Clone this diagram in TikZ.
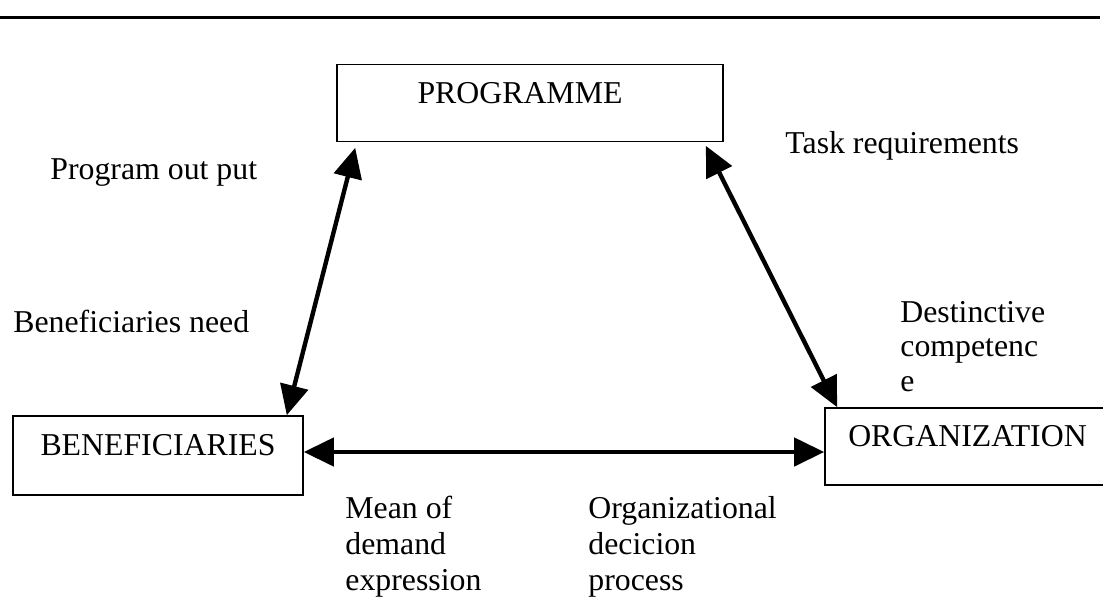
\documentclass[tikz,border=0pt]{standalone}
\usepackage{fontspec}
\setmainfont{Liberation Serif}
\usetikzlibrary{arrows.meta,positioning}
\tikzset{
    unit/.style={draw, line width=0.8pt, inner xsep=0pt, inner ysep=0pt, text height=10pt, text depth=10pt},
    note/.style={anchor=north west, inner sep=0pt, align=left},
    widenote/.style={note, font=\fontsize{15.9}{18}\selectfont},
    link/.style={{Triangle[length=15pt,width=14pt]}-{Triangle[length=15pt,width=14pt]}, line width=2.2pt},
    topline/.style={line width=1.5pt}
}

\begin{document}
\begin{tikzpicture}[x=0.5pt, y=-0.5pt, font=\fontsize{15.9}{17.2}\selectfont]
\useasboundingbox (0,0) rectangle (1103,607);
\draw[topline] (0,17) -- (1100,17);
% the three units
\node[unit, minimum width=193pt, minimum height=38.5pt] (prog) at (530,103) {PROGRAMME\hspace*{10pt}};
\node[unit, minimum width=145pt, minimum height=39.5pt] (benef) at (158,455.5) {BENEFICIARIES};
\node[unit, minimum width=142.5pt, minimum height=38.5pt] (org) at (967.5,446.5) {ORGANIZATION};
% labels
\node[note] (outlbl) at (50,158) {Program out put};
\node[note] (needlbl) at (13,310) {Beneficiaries need};
\node[note] (tasklbl) at (785,131) {Task requirements};
\node[note] (complbl) at (900,301) {Destinctive\\competenc\\e};
\node[widenote] (meanlbl) at (345,496) {Mean of\\demand\\expression};
\node[widenote] (declbl) at (588,496) {Organizational\\decicion\\process};
% links
\draw[link] ([xshift=9.5pt,yshift=-2.75pt]prog.south west) -- ([xshift=-8.5pt]benef.north east);
\draw[link] ([xshift=-9pt,yshift=-1.75pt]prog.south east) -- ([xshift=6.5pt]org.north west);
\draw[link] ([yshift=1.75pt]benef.east) -- ([yshift=-2.75pt]org.west);
\end{tikzpicture}
\end{document}
